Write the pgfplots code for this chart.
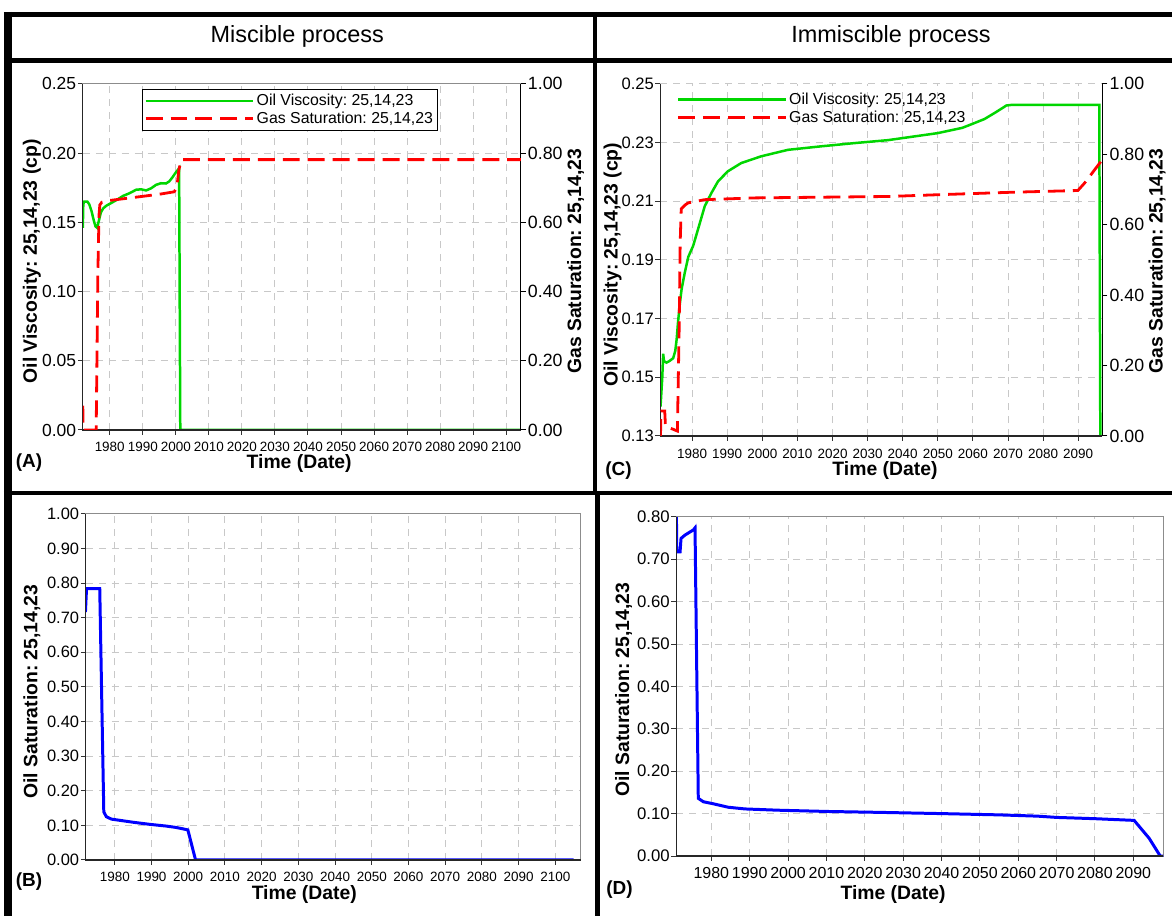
\documentclass[border=0pt]{standalone}
\usepackage{fontspec}
\setmainfont{Liberation Sans}
\usepackage{pgfplots}
\pgfplotsset{compat=1.18}

\definecolor{oilgreen}{RGB}{0,214,0}
\definecolor{gasred}{RGB}{255,0,0}
\definecolor{sblue}{RGB}{0,0,255}
\definecolor{gridgray}{RGB}{200,200,200}
\newcommand{\fs}[2]{\fontsize{#1}{#2}\selectfont}
\newcommand{\lblfont}{\bfseries\fontsize{19.4}{23}\selectfont}

\pgfplotsset{
  panel/.style={
    scale only axis,
    anchor=south west,
    grid=major,
    grid style={gridgray, dash pattern=on 7pt off 6pt, line width=1pt},
    tick align=outside,
    major tick length=5pt,
    tick style={black!80, line width=1pt},
    axis line style={-, black!45, line width=1pt},
    scaled x ticks=false, scaled y ticks=false,
    /pgf/number format/assume math mode=true,
    xticklabel style={/pgf/number format/1000 sep={}},
    yticklabel style={/pgf/number format/fixed, /pgf/number format/fixed zerofill, /pgf/number format/precision=2, inner xsep=1.5pt},
    tick pos=left,
    every axis y label/.style={rotate=90, anchor=center, font=\lblfont},
    every axis x label/.style={anchor=center, font=\lblfont},
    after end axis/.code={\draw[black!85, line width=1.3pt] (rel axis cs:0,1) -- (rel axis cs:0,0) -- (rel axis cs:1,0);},
    legend image code/.code={\draw[##1] (0pt,0pt) -- (108pt,0pt);},
    legend cell align=left,
  },
  rightax/.style={
    scale only axis,
    anchor=south west,
    axis x line=none,
    axis y line*=right,
    axis line style={-, black, line width=1.3pt},
    tick align=outside,
    major tick length=5pt,
    tick style={black, line width=1pt},
    scaled y ticks=false,
    /pgf/number format/assume math mode=true,
    yticklabel style={/pgf/number format/fixed, /pgf/number format/fixed zerofill, /pgf/number format/precision=2, font=\fs{17.8}{21}, inner xsep=2pt},
    ymin=0, ymax=1, ytick={0,0.2,0.4,0.6,0.8,1.0},
    every axis y label/.style={rotate=90, anchor=center, font=\lblfont},
  },
  oil/.style={oilgreen, line width=2.5pt},
  gas/.style={gasred, line width=2.8pt, dash pattern=on 17pt off 8pt},
  so/.style={sblue, line width=3pt},
}

\begin{document}
\frenchspacing
\begin{tikzpicture}[x=1pt,y=1pt]
\path (0,0) rectangle (1175,918);

% ---------------- Panel A ----------------
\begin{axis}[panel, at={(83pt,487pt)}, width=439pt, height=347pt,
  xmin=1971.85, xmax=2104.4, ymin=0, ymax=0.25,
  xtick={1980,1990,2000,2010,2020,2030,2040,2050,2060,2070,2080,2090,2100},
  ytick={0,0.05,0.10,0.15,0.20,0.25},
  xticklabel style={font=\fs{13.5}{16}, yshift=-4pt},
  yticklabel style={font=\fs{17.5}{21}},
  xlabel={Time (Date)}, ylabel={Oil Viscosity: 25,14,23 (cp)},
  xlabel style={at={(axis description cs:0.494,-0.097)}},
  ylabel style={at={(axis description cs:-0.1162,0.487)}},
  legend style={at={(0.1344,0.9856)}, anchor=north west, draw=black, line width=1pt, fill=white,
    font=\fs{15.9}{18.5}, inner xsep=2pt, inner ysep=3pt, row sep=1pt},
]
\addplot[oil] coordinates {
(1971.85,0.146) (1972.0,0.163) (1972.3,0.165) (1973.2,0.165) (1973.8,0.163)
(1974.5,0.158) (1975.2,0.151) (1975.7,0.147) (1976.2,0.146) (1976.7,0.151)
(1977.3,0.157) (1978.0,0.160) (1979.0,0.162) (1980.5,0.164) (1982.0,0.166)
(1984.0,0.169) (1986.0,0.171) (1988.0,0.1735) (1989.5,0.1738) (1991.0,0.173)
(1992.5,0.1745) (1994.0,0.177) (1995.5,0.1782) (1997.0,0.178) (1998.0,0.1795)
(1999.0,0.1825) (2000.0,0.186) (2001.0,0.189) (2001.35,0.0) (2104.4,0.0)
};
\addlegendentry{Oil Viscosity: 25,14,23}
\addlegendimage{gas}
\addlegendentry{Gas Saturation: 25,14,23}
\draw[black!45, line width=1pt] (rel axis cs:0,1) -- (rel axis cs:1,1);
\end{axis}
\begin{axis}[rightax, at={(83pt,487pt)}, width=439pt, height=347pt,
  xmin=1971.85, xmax=2104.4,
  ylabel={Gas Saturation: 25,14,23},
  ylabel style={at={(axis description cs:1.1253,0.487)}},
]
\addplot[gas] coordinates {
(1971.85,0.07) (1971.95,0.0) (1975.9,0.0) (1976.4,0.45) (1976.75,0.62)
(1977.0,0.65) (1977.6,0.658) (1980,0.663) (1985,0.669) (1990,0.675)
(1995,0.681) (1999.5,0.688) (2000.3,0.70) (2000.9,0.75) (2001.6,0.781)
(2104.4,0.781)
};
\end{axis}

% ---------------- Panel C ----------------
\begin{axis}[panel, at={(662pt,481pt)}, width=443pt, height=353pt,
  xmin=1970.98, xmax=2096.9, ymin=0.13, ymax=0.25,
  xtick={1980,1990,2000,2010,2020,2030,2040,2050,2060,2070,2080,2090},
  ytick={0.13,0.15,0.17,0.19,0.21,0.23,0.25},
  axis line style={draw=none},
  xticklabel style={font=\fs{13.5}{16}, yshift=-5pt},
  yticklabel style={font=\fs{16.6}{20}},
  xlabel={Time (Date)}, ylabel={Oil Viscosity: 25,14,23 (cp)},
  xlabel style={at={(axis description cs:0.508,-0.0992)}},
  ylabel style={at={(axis description cs:-0.108,0.486)}},
  legend style={at={(0.0316,0.983)}, anchor=north west, draw=none, fill=none,
    font=\fs{15.9}{18.5}, inner xsep=2pt, inner ysep=1pt, row sep=1pt},
]
\addplot[oil] coordinates {
(1971.0,0.140) (1971.5,0.150) (1971.75,0.158) (1972.0,0.1555) (1972.7,0.155)
(1973.5,0.1555) (1974.6,0.1565) (1975.2,0.159) (1975.6,0.163) (1976.0,0.169)
(1976.5,0.175) (1977.0,0.180) (1977.9,0.1856) (1978.9,0.191) (1980.3,0.1948)
(1981.7,0.2005) (1983.6,0.2083) (1985.5,0.2128) (1987.4,0.2168) (1990.2,0.2202)
(1994.0,0.2230) (1999.7,0.2253) (2007.3,0.2275) (2016.8,0.2287) (2026.3,0.2298)
(2035.8,0.2308) (2050.0,0.2332) (2057.0,0.2350) (2060.4,0.2366) (2063.3,0.2380)
(2066.1,0.2400) (2068.5,0.2418) (2069.5,0.2426) (2070.9,0.2428) (2096.0,0.2428)
(2096.3,0.13)
};
\addlegendentry{Oil Viscosity: 25,14,23}
\addlegendimage{gas}
\addlegendentry{Gas Saturation: 25,14,23}
\end{axis}
\begin{axis}[rightax, at={(662pt,481pt)}, width=443pt, height=353pt,
  xmin=1970.98, xmax=2096.9,
  ylabel={Gas Saturation: 25,14,23},
  ylabel style={at={(axis description cs:1.124,0.497)}},
]
\addplot[gas] coordinates {
(1971.0,0.0) (1971.1,0.071) (1972.2,0.071) (1972.4,0.028) (1975.8,0.014)
(1976.3,0.30) (1976.6,0.55) (1976.9,0.645) (1978.0,0.656) (1978.9,0.662)
(1983.6,0.671) (1997.8,0.676) (2035.8,0.680) (2050,0.685) (2070.9,0.692)
(2089.9,0.697) (2091.8,0.718) (2096.9,0.785)
};
\end{axis}

% ---------------- Panel B ----------------
\begin{axis}[panel, at={(86pt,56pt)}, width=496pt, height=347pt,
  xmin=1972.1, xmax=2106.9, ymin=0, ymax=1,
  xtick={1980,1990,2000,2010,2020,2030,2040,2050,2060,2070,2080,2090,2100},
  ytick={0,0.1,0.2,0.3,0.4,0.5,0.6,0.7,0.8,0.9,1.0},
  xticklabel style={font=\fs{13.5}{16}, yshift=-4pt},
  yticklabel style={font=\fs{16.5}{20}},
  xlabel={Time (Date)}, ylabel={Oil Saturation: 25,14,23},
  xlabel style={at={(axis description cs:0.4415,-0.101)}},
  ylabel style={at={(axis description cs:-0.109,0.486)}},
]
\addplot[so] coordinates {
(1972.0,0.716) (1972.3,0.784) (1975.9,0.784) (1977.0,0.139) (1977.7,0.125)
(1979.1,0.118) (1985.0,0.109) (1989.5,0.103) (1994.0,0.098) (1996.7,0.094)
(1999.9,0.087) (2002.0,0.0) (2105.0,0.0)
};
\draw[black!45, line width=1pt] (rel axis cs:0,1) -- (rel axis cs:1,1) -- (rel axis cs:1,0);
\end{axis}

% ---------------- Panel D ----------------
\begin{axis}[panel, at={(678pt,60pt)}, width=488pt, height=340pt,
  xmin=1970.9, xmax=2097.8, ymin=0, ymax=0.8,
  xtick={1980,1990,2000,2010,2020,2030,2040,2050,2060,2070,2080,2090},
  ytick={0,0.1,0.2,0.3,0.4,0.5,0.6,0.7,0.8},
  xticklabel style={font=\fs{16}{19}, yshift=-3pt},
  yticklabel style={font=\fs{16.8}{20}},
  xlabel={Time (Date)}, ylabel={Oil Saturation: 25,14,23},
  xlabel style={at={(axis description cs:0.445,-0.1147)}},
  ylabel style={at={(axis description cs:-0.1086,0.49)}},
]
\addplot[so] coordinates {
(1970.9,0.80) (1971.0,0.717) (1971.85,0.717) (1972.1,0.749) (1973.15,0.757)
(1975.3,0.769) (1975.75,0.774) (1976.6,0.136) (1977.9,0.128) (1980.1,0.124)
(1984.4,0.115) (1988.75,0.111) (1997.4,0.108) (2010.4,0.105) (2023.4,0.103)
(2040,0.100) (2055,0.097) (2065,0.094) (2070,0.091) (2080,0.088)
(2090.2,0.084) (2094.1,0.042) (2097.0,0.0) (2097.8,0.0)
};
\draw[black!45, line width=1pt] (rel axis cs:0,1) -- (rel axis cs:1,1) -- (rel axis cs:1,0);
\end{axis}

% ---------------- frame and texts ----------------
\draw[line width=5pt] (4,903.5) -- (1175,903.5);
\draw[line width=5.5pt] (4,857.5) -- (1175,857.5);
\draw[line width=4.5pt] (4,424) -- (1175,424);
\draw[line width=8pt] (8,906) -- (8,0);
\draw[line width=4pt] (596,906) -- (596,424);
\draw[line width=5pt] (599,424) -- (599,0);
\node[font=\fs{23.5}{27}] at (298,881) {Miscible process};
\node[font=\fs{23.5}{27}] at (893,881) {Immiscible process};
\node[font=\bfseries\fs{19}{23}] at (29,454) {(A)};
\node[font=\bfseries\fs{19}{23}] at (620,446) {(C)};
\node[font=\bfseries\fs{19}{23}] at (29,34) {(B)};
\node[font=\bfseries\fs{19}{23}] at (621,26) {(D)};
\end{tikzpicture}
\end{document}
